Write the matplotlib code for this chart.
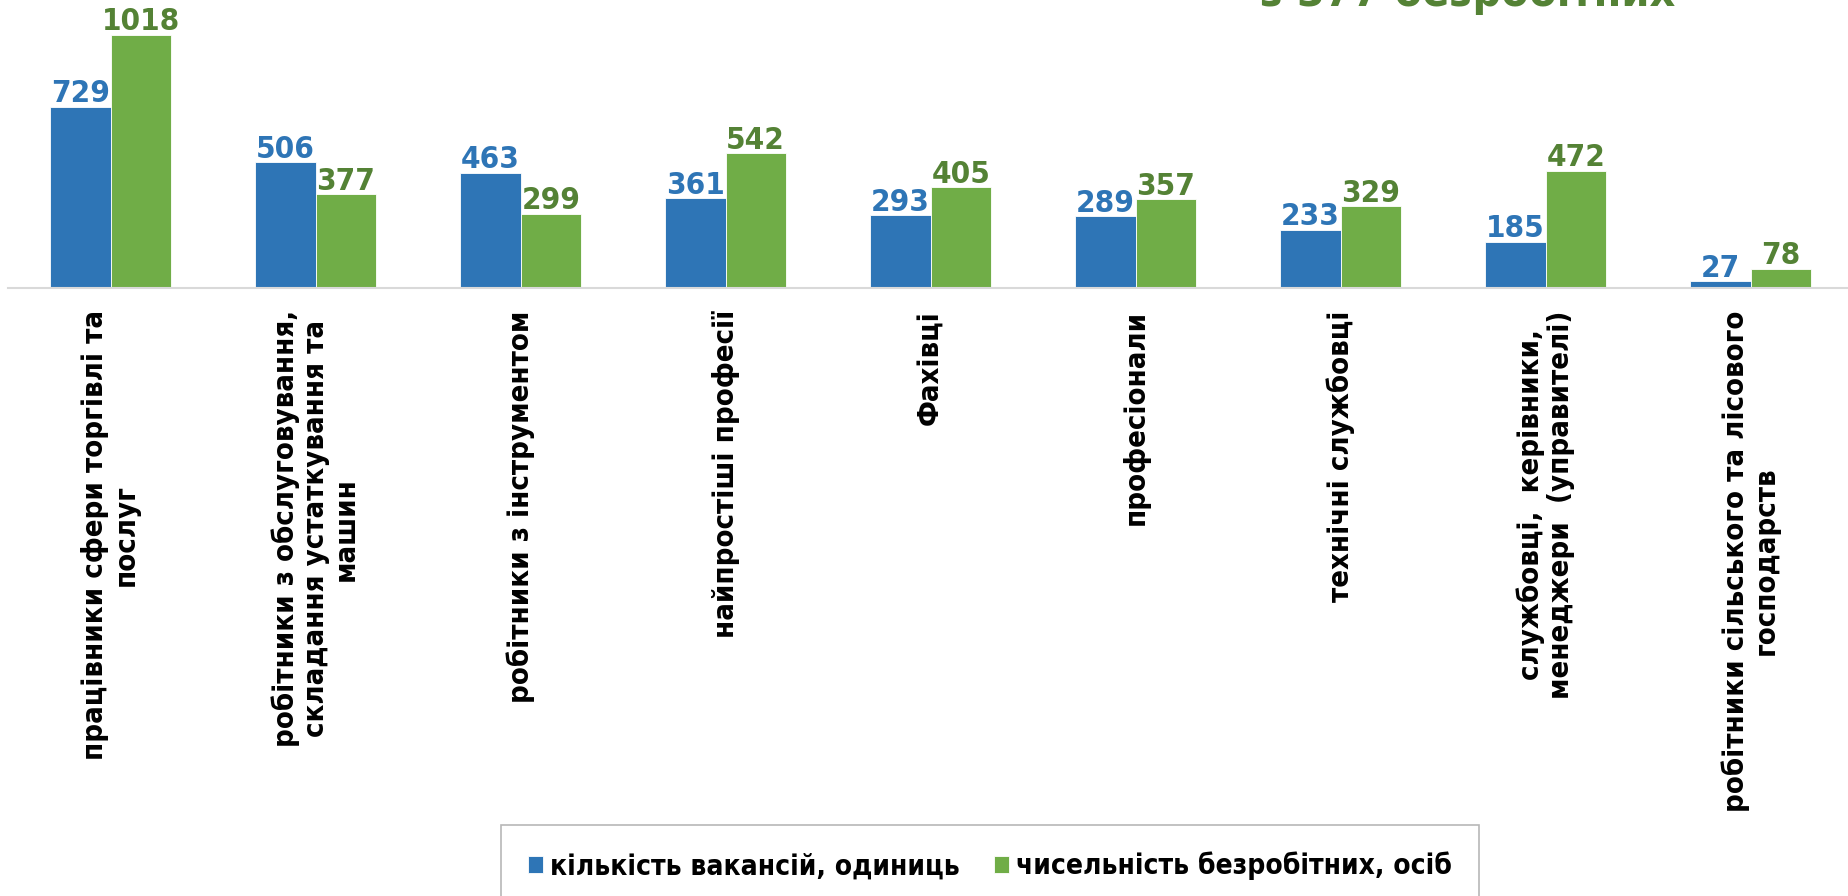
import numpy as np
import matplotlib
matplotlib.use('Agg')
import matplotlib.pyplot as plt

plt.rcParams['font.family'] = ['DejaVu Sans']
plt.rcParams['font.stretch'] = 'condensed'
plt.rcParams['font.weight'] = 'bold'

categories = ['працівники сфери торгівлі та\nпослуг',
              'робітники з обслуговування,\nскладання устаткування та\nмашин',
              'робітники з інструментом',
              'найпростіші професії',
              'Фахівці',
              'професіонали',
              'технічні службовці',
              'службовці,  керівники,\nменеджери  (управителі)',
              'робітники сільського та лісового\nгосподарств']
vacancies = [729, 506, 463, 361, 293, 289, 233, 185, 27]
unemployed = [1018, 377, 299, 542, 405, 357, 329, 472, 78]
series_names = ['кількість вакансій, одиниць', 'чисельність безробітних, осіб']
title_tail = 'з 377 безробітних'

blue = '#2E75B6'
green = '#70AD47'
green_txt = '#548235'

W, H = 1849, 896
fig = plt.figure(figsize=(W / 100, H / 100), dpi=100)
fig.patch.set_facecolor('white')

# axes placed in pixel terms: baseline at y=288 from top
ax = fig.add_axes([8 / W, (H - 288) / H, 1845 / W, 288 / H])
x = np.arange(len(categories))
bw = 0.295
b1 = ax.bar(x - bw / 2, vacancies, bw, color=blue, edgecolor='white', linewidth=0.6,
            label=series_names[0])
b2 = ax.bar(x + bw / 2, unemployed, bw, color=green, edgecolor='white', linewidth=0.6,
            label=series_names[1])
ax.bar_label(b1, padding=-1, color=blue, fontsize=22.5, fontweight='bold')
ax.bar_label(b2, padding=-1, color=green_txt, fontsize=22.5, fontweight='bold')

ax.set_xlim(-0.5, len(categories) - 0.5)
ax.set_ylim(0, 1159)
ax.set_yticks([])
ax.set_xticks(x)
ax.set_xticklabels(categories, rotation=90, fontsize=21, fontweight='bold',
                   color='black', linespacing=1.1)
ax.tick_params(axis='x', length=0, pad=16)
for s in ['top', 'left', 'right']:
    ax.spines[s].set_visible(False)
ax.spines['bottom'].set_color('#D9D9D9')
ax.spines['bottom'].set_linewidth(1.5)
ax.patch.set_alpha(0)

# title of the slide, only its last line shows at the top edge
fig.text(1260 / W, 1 - 6 / H, title_tail, fontsize=32, color=green_txt,
         fontweight='bold', ha='left', va='baseline')

leg = fig.legend(handles=[b1, b2], loc='center', bbox_to_anchor=(990 / W, 1 - 866 / H),
                 ncol=2, fontsize=20.2, frameon=True, fancybox=False,
                 edgecolor='#A6A6A6', handlelength=0.55, handleheight=0.55,
                 handletextpad=0.25, columnspacing=1.2, borderpad=0.95)
leg.get_frame().set_linewidth(1.2)
for t in leg.get_texts():
    t.set_fontweight('bold')

fig.savefig('out.png', dpi=100)
